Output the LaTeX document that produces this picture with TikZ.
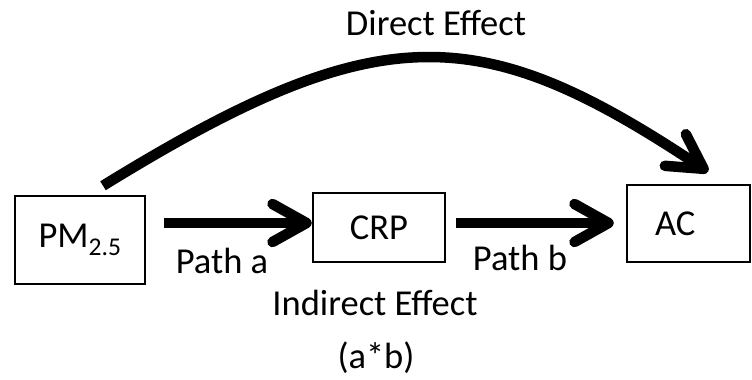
\documentclass[tikz,border=0pt]{standalone}
\usepackage{fontspec}
\setmainfont{Carlito}
\usetikzlibrary{calc,arrows.meta}

\begin{document}
\begin{tikzpicture}[x=1pt, y=-1pt,
    every node/.style={font=\fontsize{36.5}{44}\selectfont},
    varbox/.style={draw, line width=2.5pt, inner sep=0pt},
    effectarrow/.style={line width=10.5pt, -{Straight Barb[length=34pt, width=38pt, round]}},
    label/.style={inner sep=0pt, anchor=base}]
    \useasboundingbox (0,0) rectangle (752,380);

    % variables
    \node[varbox, minimum width=130pt, minimum height=88pt] (PM) at (80,240) {PM\textsubscript{2.5}};
    \node[varbox, minimum width=132pt, minimum height=69pt] (CRP) at (379,227.5) {CRP};
    \node[varbox, minimum height=77pt, text width=67pt, align=left, inner xsep=28pt] (AC) at (688.5,223.5) {AC};

    % mediated paths
    \draw[effectarrow] ([xshift=18pt, yshift=17pt]PM.east) -- ([yshift=4.5pt]CRP.west);
    \draw[effectarrow] ([xshift=10pt, yshift=4.5pt]CRP.east) -- ([xshift=-12pt, yshift=0.5pt]AC.west);

    % direct path
    \draw[effectarrow] ([xshift=23pt, yshift=9pt]PM.north) .. controls (380,15) and (480,20) .. ([xshift=19.5pt, yshift=12pt]AC.north);

    % labels
    \node[label] (direct) at (436,35) {Direct Effect};
    \node[label] (patha) at (222,273) {Path a};
    \node[label] (pathb) at (520,270) {Path b};
    \node[label] (indirect) at (375,315) {Indirect Effect};
    \node[label] (ab) at (376,368) {(a*b)};
\end{tikzpicture}
\end{document}
